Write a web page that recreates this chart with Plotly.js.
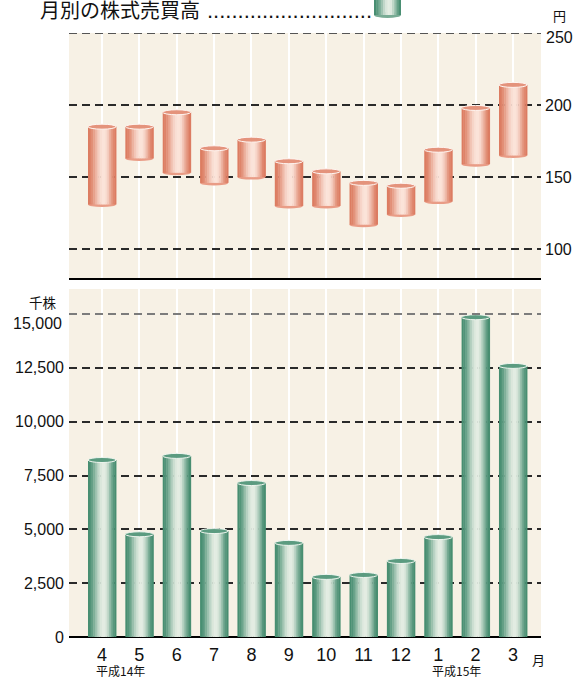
<!DOCTYPE html>
<html><head><meta charset="utf-8">
<script src="https://cdn.plot.ly/plotly-3.0.1.min.js"></script>
<style>body{margin:0;background:#fff}#chart{width:577px;height:678px}</style>
</head><body><div id="chart"></div>
<script>
// ---- data ----
const months = ['4','5','6','7','8','9','10','11','12','1','2','3'];
const priceHigh = [185,185,195,170,176,161,154,146,144,169,198,214];
const priceLow  = [131,163,153,146,150,130,130,117,124,133,159,165];
const volume = [8220,4770,8410,4920,7150,4370,2790,2880,3530,4640,14850,12590];
const priceTicks = [100,150,200,250];
const priceTickText = ['100','150','200',''];
const volumeTicks = [0,2500,5000,7500,10000,12500,15000];
const volumeTickText = ['0','2,500','5,000','7,500','10,000','12,500',''];
const titleText = '月別の株式売買高';
const yearLabels = [{at:'4', text:'平成14年'}, {at:'1', text:'平成15年'}];

// ---- style helpers ----
const FONT = "'Liberation Sans', Arial, 'Noto Sans CJK JP', sans-serif";
const JFONT = "'Noto Sans CJK JP', 'Liberation Sans', sans-serif";
const W = 0.75, N = 16, S = W / N, HL = 0.56;
function hex2rgb(h){return [1,3,5].map(i=>parseInt(h.substr(i,2),16));}
function mix(a,b,f){const A=hex2rgb(a),B=hex2rgb(b);return 'rgb('+A.map((v,i)=>Math.round(v+(B[i]-v)*f)).join(',')+')';}
function shadeAt(t, edge, hi){
  const d = (t-HL)/(t<HL?HL:1-HL);
  const f = Math.pow(Math.max(0,1-d*d),2.2);
  return mix(edge,hi,f);
}
const salmon = {edge:'#dc7b60', hi:'#fbe4da', cap:'#e4937c', bottom:'#e99c86'};
const green  = {edge:'#468d70', hi:'#e4ede3', cap:'#5b9b80', bottom:'#78ab94'};

const traces = [];
for (let k=0;k<N;k++){
  const t=(k+0.5)/N;
  traces.push({type:'bar', x:months, y:priceHigh.map((h,i)=>h-priceLow[i]), base:priceLow,
    xaxis:'x2', yaxis:'y2', offset:-W/2+k*S, width:S*1.25,
    marker:{color:shadeAt(t,salmon.edge,salmon.hi), line:{width:0}},
    hoverinfo:'skip', showlegend:false});
  traces.push({type:'bar', x:months, y:volume,
    xaxis:'x', yaxis:'y', offset:-W/2+k*S, width:S*1.25,
    marker:{color:shadeAt(t,green.edge,green.hi), line:{width:0}},
    hoverinfo:'skip', showlegend:false});
}

const shapes = [];
months.forEach((m,i)=>{
  shapes.push({type:'circle', layer:'between', xref:'x2', yref:'y2', xsizemode:'scaled', ysizemode:'pixel',
    yanchor:priceLow[i], x0:i-W/2, x1:i+W/2, y0:-2.5, y1:2.5, fillcolor:salmon.bottom, line:{width:0}});
  shapes.push({type:'circle', xref:'x2', yref:'y2', xsizemode:'scaled', ysizemode:'pixel',
    yanchor:priceHigh[i], x0:i-W/2, x1:i+W/2, y0:-2.5, y1:2.5, fillcolor:salmon.cap, line:{color:'#fff6f2',width:1}});
  shapes.push({type:'circle', xref:'x', yref:'y', xsizemode:'scaled', ysizemode:'pixel',
    yanchor:volume[i], x0:i-W/2, x1:i+W/2, y0:-2.5, y1:2.5, fillcolor:green.cap, line:{color:'#eef5ee',width:1}});
});
// top gray dashed lines
shapes.push({type:'line', xref:'x domain', yref:'y', x0:0, x1:1, y0:15000, y1:15000, line:{color:'#7c7c7c', width:2.2, dash:'8px,5px'}});
shapes.push({type:'line', xref:'x2 domain', yref:'y2', x0:0, x1:1, y0:250, y1:250, line:{color:'#555', width:1.8, dash:'8px,5px'}});
// legend icon (green cylinder)
const ix0=(374-69)/472, ix1=(401-69)/472, iy0=(637-15)/604, iy1=(637+2)/604;
const NI=12;
for(let k=0;k<NI;k++){
  const t=(k+0.5)/NI;
  shapes.push({type:'rect', xref:'paper', yref:'paper', x0:ix0+(ix1-ix0)*k/NI, x1:ix0+(ix1-ix0)*Math.min(k+1.2,NI)/NI,
    y0:iy0, y1:iy1, fillcolor:shadeAt(t,green.edge,green.hi), line:{width:0}});
}
shapes.push({type:'circle', layer:'below', xref:'paper', yref:'paper', x0:ix0, x1:ix1, y0:iy0-3/604, y1:iy0+3/604, fillcolor:green.bottom, line:{width:0}});

const annotations = [
  {xref:'paper', yref:'paper', x:(38-69)/472, y:(637-10)/604, xanchor:'left', yanchor:'middle', showarrow:false,
   text:titleText, font:{family:JFONT, size:20, color:'#111'}},
  {xref:'paper', yref:'paper', x:(205-69)/472, y:(637-11)/604, xanchor:'left', yanchor:'middle', showarrow:false,
   text:'...........................', font:{family:FONT, size:22, color:'#111'}},
  {xref:'paper', yref:'paper', x:(43-69)/472, y:(637-302)/604, xanchor:'center', yanchor:'middle', showarrow:false,
   text:'千株', font:{family:JFONT, size:13.5, color:'#111'}},
  {xref:'paper', yref:'paper', x:(559-69)/472, y:(637-16)/604, xanchor:'center', yanchor:'middle', showarrow:false,
   text:'円', font:{family:JFONT, size:13, color:'#111'}},
  {xref:'paper', yref:'paper', x:(538-69)/472, y:(637-659)/604, xanchor:'center', yanchor:'middle', showarrow:false,
   text:'月', font:{family:JFONT, size:13, color:'#111'}},
  // shifted top tick labels (as in reference)
  {xref:'paper', yref:'y', x:(64-69)/472, y:15000, yshift:-9, xanchor:'right', yanchor:'middle', showarrow:false,
   text:'15,000', font:{family:FONT, size:16, color:'#111'}},
  {xref:'paper', yref:'y2', x:(544-69)/472, y:250, yshift:-4, xanchor:'left', yanchor:'middle', showarrow:false,
   text:'250', font:{family:FONT, size:16, color:'#111'}}
];
yearLabels.forEach(yl=>{
  annotations.push({xref:'x', yref:'paper', x:months.indexOf(yl.at), xshift:-8, y:(637-670.5)/604, xanchor:'left', yanchor:'middle',
    showarrow:false, text:yl.text, font:{family:JFONT, size:12, color:'#111'}});
});

const xr = [-0.883, 11.75];
const GRID = '#2a2a2a';
const layout = {
  width:577, height:678, margin:{l:69, r:36, t:33, b:41},
  paper_bgcolor:'#fff', plot_bgcolor:'#f7f1e5',
  barmode:'overlay', showlegend:false,
  font:{family:FONT, color:'#111'},
  xaxis:{type:'category', anchor:'y', domain:[0,1], range:xr, showgrid:true, gridcolor:'#fff', gridwidth:2,
    showline:false, zeroline:false, ticks:'', tickfont:{size:18, family:FONT}, ticklabelstandoff:5},
  yaxis:{anchor:'x', domain:[0,348/604], range:[0,16161], tickvals:volumeTicks, ticktext:volumeTickText,
    showgrid:true, gridcolor:GRID, gridwidth:2, griddash:'8px,5px',
    zeroline:true, zerolinecolor:'#000', zerolinewidth:2, ticks:'', tickfont:{size:16, family:FONT}, ticklabelstandoff:4},
  xaxis2:{type:'category', anchor:'y2', domain:[0,1], range:xr, showgrid:true, gridcolor:'#fff', gridwidth:2,
    showticklabels:false, showline:true, linecolor:'#000', linewidth:1.5, zeroline:false, ticks:''},
  yaxis2:{anchor:'x2', side:'right', domain:[1-245/604,1], range:[80,250], tickvals:priceTicks, ticktext:priceTickText,
    showgrid:true, gridcolor:GRID, gridwidth:2, griddash:'8px,5px', zeroline:false, ticks:'',
    tickfont:{size:16, family:FONT}, ticklabelstandoff:3},
  shapes:shapes, annotations:annotations
};
Plotly.newPlot('chart', traces, layout, {displayModeBar:false, staticPlot:true});
</script></body></html>
